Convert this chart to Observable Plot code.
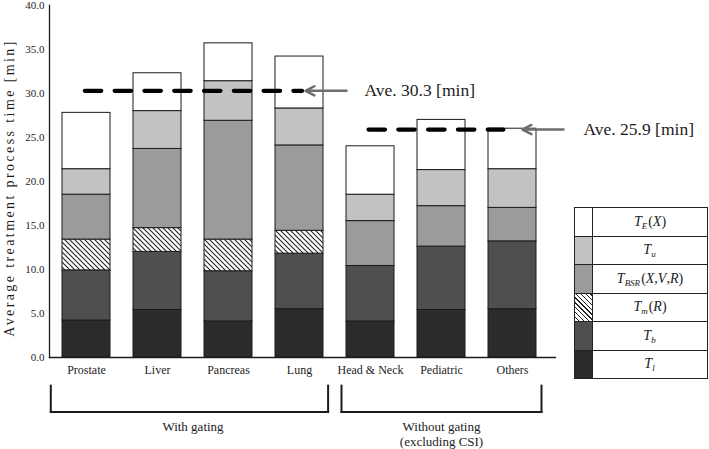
<!DOCTYPE html>
<html>
<head>
<meta charset="utf-8">
<script src="https://cdn.jsdelivr.net/npm/d3@7"></script>
<script src="https://cdn.jsdelivr.net/npm/@observablehq/plot@0.6"></script>
<style>
  html, body { margin: 0; padding: 0; background: #fff; }
  #wrap { position: relative; width: 709px; height: 449px; overflow: hidden; }
  #legend { position: absolute; left: 574px; top: 207px; width: 134px; border: 1px solid #222; box-sizing: border-box;
            font-family: 'Liberation Serif', 'Times New Roman', serif; font-style: italic; font-size: 14px; color: #222; background: #fff; }
  #legend .row { display: flex; height: 27.5px; border-bottom: 1px solid #222; }
  #legend .row:last-child { border-bottom: none; }
  #legend .sw { width: 17px; border-right: 1px solid #222; flex: none; }
  #legend .lab { flex: 1; display: flex; align-items: center; justify-content: center; line-height: 1; }
  #legend sub { font-size: 9px; position: relative; top: 4px; vertical-align: baseline; line-height: 0; margin-right: 1px; }
  #legend .up { font-style: normal; }
</style>
</head>
<body>
<svg width="0" height="0" style="position:absolute">
  <defs>
    <pattern id="hatch" patternUnits="userSpaceOnUse" width="5" height="5">
      <rect width="5" height="5" fill="#fff"/>
      <path d="M-1,-1 L6,6 M-1,4 L1,6 M4,-1 L6,1" stroke="#222" stroke-width="1.1"/>
    </pattern>
  </defs>
</svg>
<div id="wrap"></div>
<script>
// ---- data ----
const categories = ["Prostate", "Liver", "Pancreas", "Lung", "Head & Neck", "Pediatric", "Others"];
// components, bottom to top of each stack
const seriesKeys = ["T_l", "T_b", "T_m", "T_BSR", "T_u", "T_E"];
const Tl    = [4.2, 5.4, 4.1, 5.5, 4.1, 5.4, 5.5];
const Tb    = [5.7, 6.6, 5.7, 6.3, 6.3, 7.2, 7.7];
const Tm    = [3.5, 2.7, 3.6, 2.6, 0, 0, 0];
const TBSR  = [5.1, 9.0, 13.5, 9.7, 5.1, 4.6, 3.8];
const Tu    = [2.9, 4.3, 4.5, 4.2, 3.0, 4.1, 4.4];
const TE    = [6.4, 4.3, 4.3, 5.9, 5.5, 5.7, 4.6];
const seriesValues = [Tl, Tb, Tm, TBSR, Tu, TE];
const yTicks = [0, 5, 10, 15, 20, 25, 30, 35, 40];
const averages = [
  {from: "Prostate", to: "Lung", value: 30.3, label: "Ave. 30.3 [min]"},
  {from: "Head & Neck", to: "Others", value: 25.9, label: "Ave. 25.9 [min]"}
];
const groups = [
  {label: "With gating", first: "Prostate", last: "Lung", at: "Liver"},
  {label: "Without gating\n(excluding CSI)", first: "Head & Neck", last: "Others", at: "Pediatric"}
];
const legendLabels = {
  T_E: '<span>T</span><sub>E</sub><span class="up">(</span>X<span class="up">)</span>',
  T_u: '<span>T</span><sub>u</sub>',
  T_BSR: '<span>T</span><sub>BSR</sub><span class="up">(</span>X<span class="up">,</span>V<span class="up">,</span>R<span class="up">)</span>',
  T_m: '<span>T</span><sub>m</sub><span class="up">(</span>R<span class="up">)</span>',
  T_b: '<span>T</span><sub>b</sub>',
  T_l: '<span>T</span><sub>l</sub>'
};

// ---- styles ----
const fills = ["#2b2b2b", "#4f4f4f", "url(#hatch)", "#9b9b9b", "#c2c2c2", "#ffffff"];
const avgStyle = [
  {insetStart: -1.7, insetEnd: -2.6, arrowFrom: "Head & Neck", arrowTo: "Lung", aStart: 24, aEnd: 6, textAt: "Head & Neck", tdx: -6},
  {insetStart: -2, insetEnd: 9.1, arrowFrom: "Others", arrowTo: "Pediatric", aStart: -51, aEnd: 81, textAt: "Others", tdx: 71}
];
const groupStyle = [
  {left: -35.7, right: 28.6, ldx: 35.5},
  {left: -29, right: 29, ldx: 0}
];
const bracketTop = -3.2, bracketBottom = -6.2;

const rows = categories.flatMap((c, i) =>
  seriesKeys.map((s, k) => ({category: c, series: s, value: seriesValues[k][i]}))
).filter(d => d.value > 0);

const font = "'Liberation Serif', 'Times New Roman', serif";
const ink = "#1c1c1c";

const marks = [
  Plot.barY(rows, {x: "category", y: "value", fill: "series", stroke: ink, strokeWidth: 1}),
  Plot.axisX({tickSize: 0, tickPadding: 8, fontSize: 12, label: null, fill: ink, fontFamily: font}),
  Plot.axisY({ticks: yTicks, tickSize: 0, tickPadding: 5, fontSize: 11, label: null, fill: ink, fontFamily: font, tickFormat: d => d.toFixed(1)}),
  Plot.frame({anchor: "left", stroke: ink, strokeWidth: 1.3}),
  Plot.frame({anchor: "bottom", stroke: ink, strokeWidth: 1.3})
];

averages.forEach((a, i) => {
  const s = avgStyle[i];
  marks.push(
    Plot.arrow([a], {x1: "from", x2: "to", y1: "value", y2: "value", headLength: 0,
      insetStart: s.insetStart, insetEnd: s.insetEnd, stroke: "#000", strokeWidth: 4.2, strokeDasharray: "16.5,13.3"}),
    Plot.arrow([a], {x1: () => s.arrowFrom, x2: () => s.arrowTo, y1: "value", y2: "value",
      insetStart: s.aStart, insetEnd: s.aEnd, stroke: "#6e6e6e", strokeWidth: 2.5, headLength: 6, headAngle: 55}),
    Plot.text([a], {x: () => s.textAt, y: "value", text: "label", dx: s.tdx, textAnchor: "start",
      lineAnchor: "middle", fontSize: 17.5, fill: ink, fontFamily: font})
  );
});

groups.forEach((g, i) => {
  const s = groupStyle[i];
  marks.push(
    Plot.link([g], {x1: "first", x2: "first", y1: () => bracketTop, y2: () => bracketBottom, dx: s.left, stroke: ink, strokeWidth: 2, strokeLinecap: "square"}),
    Plot.link([g], {x1: "last", x2: "last", y1: () => bracketTop, y2: () => bracketBottom, dx: s.right, stroke: ink, strokeWidth: 2, strokeLinecap: "square"}),
    Plot.arrow([g], {x1: "first", x2: "last", y1: () => bracketBottom, y2: () => bracketBottom, headLength: 0,
      insetStart: s.left, insetEnd: -s.right, stroke: ink, strokeWidth: 2, strokeLinecap: "square"}),
    Plot.text([g], {x: "at", y: () => bracketBottom, text: "label", dx: s.ldx, dy: 8, lineAnchor: "top",
      lineHeight: 1.18, fontSize: 13, fill: ink, fontFamily: font})
  );
});

const chart = Plot.plot({
  width: 709, height: 449,
  marginLeft: 49, marginRight: 154, marginTop: 5, marginBottom: 92,
  style: {fontFamily: font, background: "#fff", color: ink, overflow: "visible"},
  x: {domain: categories, paddingInner: 0.33, paddingOuter: 0.2, align: 0.41},
  y: {domain: [0, 40]},
  color: {domain: seriesKeys, range: fills},
  marks
});

// y-axis title
const ys = chart.scale("y");
const yMid = ys.range[0] + (ys.range[1] - ys.range[0]) * (20 - ys.domain[0]) / (ys.domain[1] - ys.domain[0]);
d3.select(chart).append("text")
  .attr("transform", `translate(9,${yMid + 7}) rotate(-90)`)
  .attr("text-anchor", "middle")
  .attr("dominant-baseline", "central")
  .attr("fill", ink)
  .style("font-family", font)
  .style("font-size", "14px")
  .style("letter-spacing", "2.4px")
  .text("Average treatment process time [min]");

const wrap = document.getElementById("wrap");
wrap.appendChild(chart);

// legend (top row = top of stack)
const legend = document.createElement("div");
legend.id = "legend";
seriesKeys.slice().reverse().forEach(key => {
  const k = seriesKeys.indexOf(key);
  const row = document.createElement("div");
  row.className = "row";
  const sw = document.createElement("div");
  sw.className = "sw";
  if (key === "T_m") sw.style.background = "repeating-linear-gradient(45deg, #fff 0 2.4px, #222 2.4px 3.4px)";
  else sw.style.background = fills[k];
  const lab = document.createElement("div");
  lab.className = "lab";
  lab.innerHTML = legendLabels[key];
  row.appendChild(sw); row.appendChild(lab);
  legend.appendChild(row);
});
wrap.appendChild(legend);
</script>
</body>
</html>
